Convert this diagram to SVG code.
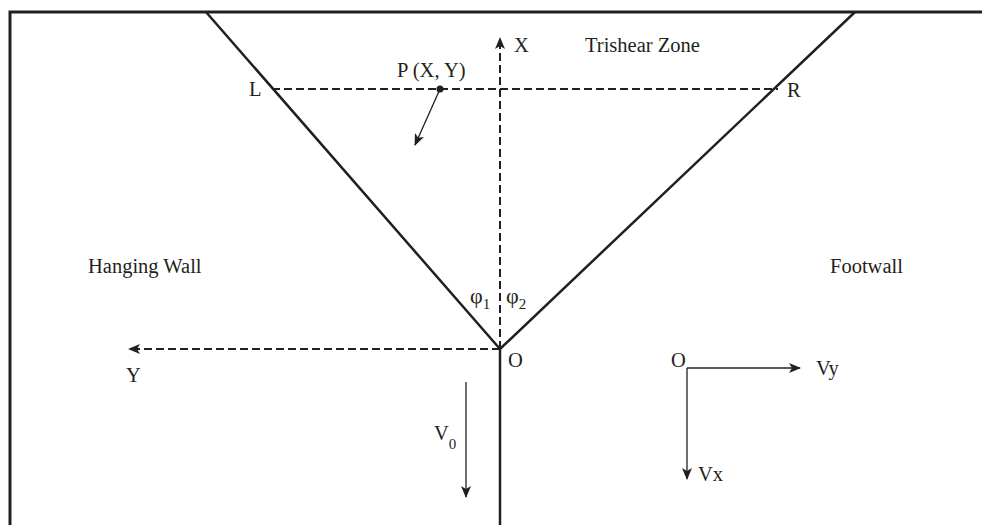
<svg xmlns="http://www.w3.org/2000/svg" width="982" height="525" viewBox="0 0 982 525">
<style>
.t{font-family:"Liberation Serif","Times New Roman",serif;font-size:20.5px;fill:#231f20}
.phi{font-size:22px}
.s{font-size:15px}
.solid{stroke:#231f20;stroke-width:2.5;fill:none}
.dash{stroke:#231f20;stroke-width:2;stroke-dasharray:8 4;fill:none}
.thin{stroke:#231f20;stroke-width:1.3;fill:none}
</style>
<defs>
<marker id="ah" viewBox="0 0 12 10" refX="11" refY="5" markerWidth="12" markerHeight="10" markerUnits="userSpaceOnUse" orient="auto">
<path d="M0,0 L12,5 L0,10 L3,5 Z" fill="#231f20"/>
</marker>
</defs>
<rect width="982" height="525" fill="#fff"/>
<g id="frame">
<path d="M10,525 V12 H982" stroke="#231f20" stroke-width="3" fill="none"/>
</g>
<g id="faults">
<path class="solid" d="M206,12 L500,349 L855,12"/>
<path class="solid" d="M500,349 V525"/>
</g>
<g id="connectors">
<path class="dash" d="M272,89 H778"/>
<path class="dash" d="M500,349 V38" marker-end="url(#ah)"/>
<path class="dash" d="M500,349 H129" marker-end="url(#ah)"/>
<path class="thin" d="M440,89 L415,145" marker-end="url(#ah)"/>
<path class="thin" d="M466,382 V497" marker-end="url(#ah)"/>
<path class="thin" d="M687,368 H800" marker-end="url(#ah)"/>
<path class="thin" d="M687,368 V479" marker-end="url(#ah)"/>
</g>
<g id="point-P">
<circle cx="440" cy="89" r="3.5" fill="#231f20"/>
<text class="t" x="397" y="77">P (X, Y)</text>
</g>
<g id="labels">
<text class="t" x="514" y="52">X</text>
<text class="t" x="585" y="52">Trishear Zone</text>
<text class="t" x="249" y="96">L</text>
<text class="t" x="787" y="97">R</text>
<text class="t" x="88" y="273">Hanging Wall</text>
<text class="t" x="830" y="273">Footwall</text>
<text class="t phi" x="470" y="303">φ<tspan class="s" dy="6">1</tspan></text>
<text class="t phi" x="506" y="303">φ<tspan class="s" dy="6">2</tspan></text>
<text class="t" x="508" y="367">O</text>
<text class="t" x="126" y="382">Y</text>
<text class="t" x="434" y="440">V<tspan class="s" dy="9">0</tspan></text>
<text class="t" x="671" y="367">O</text>
<text class="t" x="816" y="375">Vy</text>
<text class="t" x="698" y="481">Vx</text>
</g>
</svg>
